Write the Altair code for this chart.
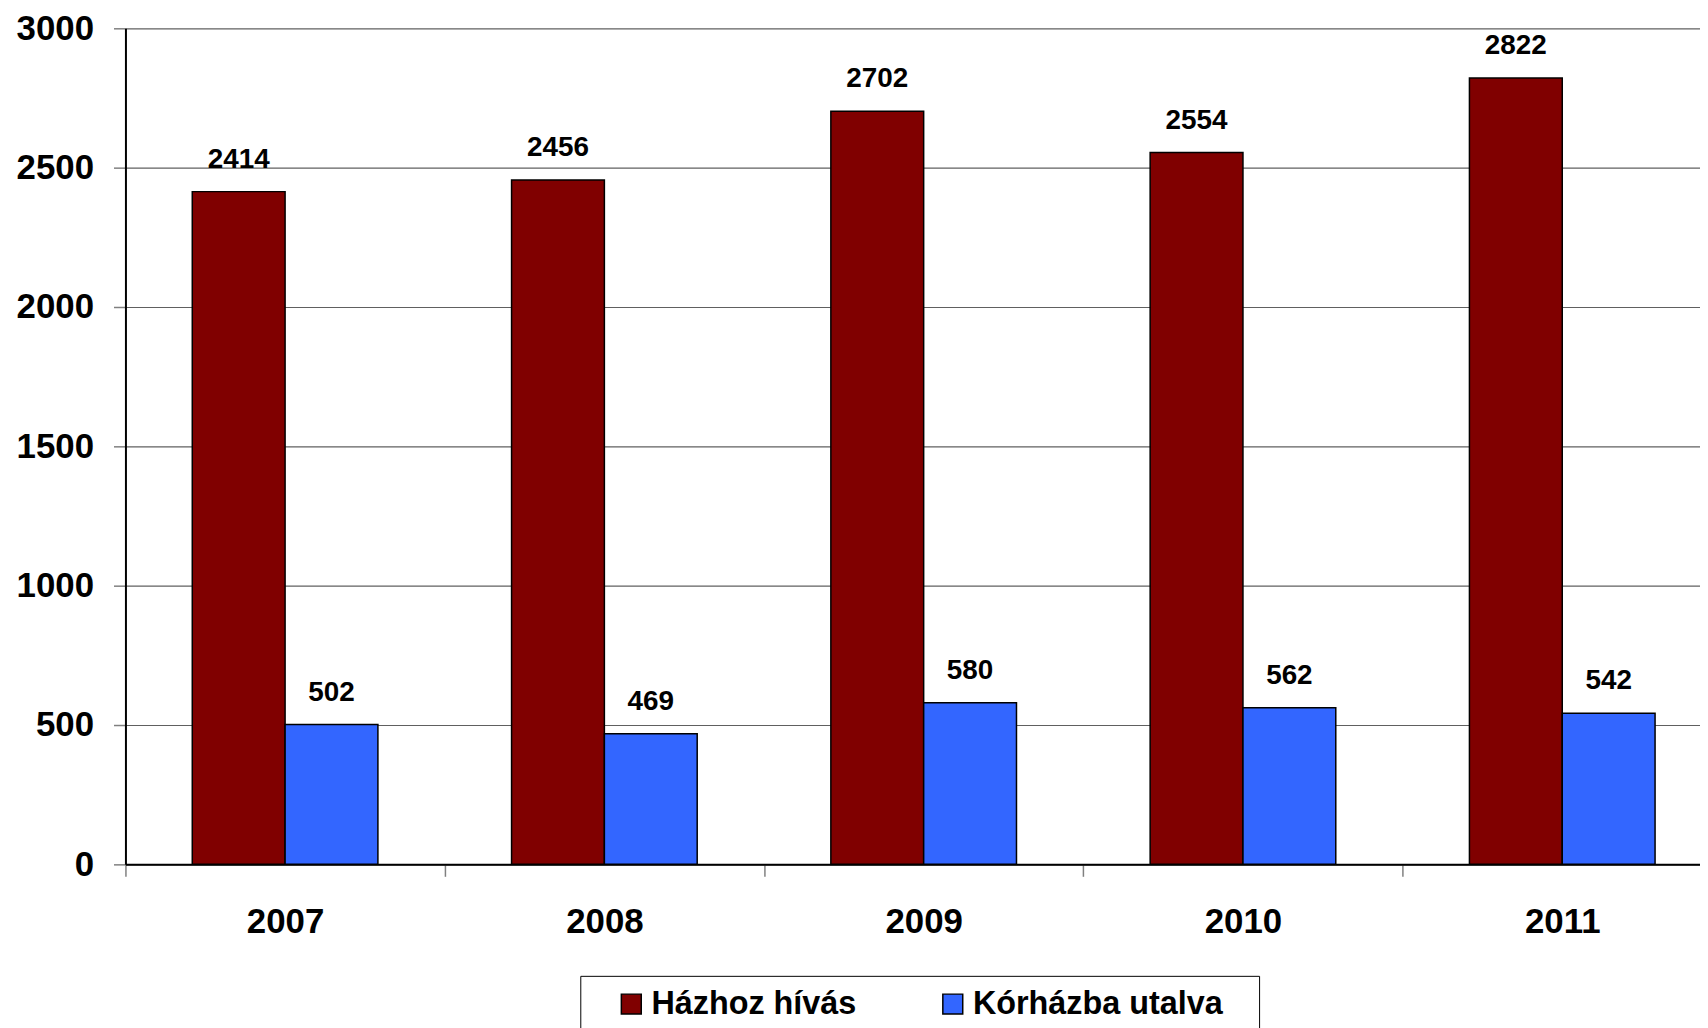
import altair as alt
import pandas as pd

years = ["2007", "2008", "2009", "2010", "2011"]
hazhoz_hivas = [2414, 2456, 2702, 2554, 2822]
korhazba_utalva = [502, 469, 580, 562, 542]
series = ["Házhoz hívás", "Kórházba utalva"]
colors = ["#800000", "#3366FF"]
y_ticks = [0, 500, 1000, 1500, 2000, 2500, 3000]

rows = []
for i, yr in enumerate(years):
    rows.append({"year": yr, "series": series[0], "value": hazhoz_hivas[i]})
    rows.append({"year": yr, "series": series[1], "value": korhazba_utalva[i]})
df = pd.DataFrame(rows)

FONT = "Liberation Sans"

x_enc = alt.X(
    "year:N",
    title=None,
    sort=years,
    scale=alt.Scale(range=[0, 1604], paddingInner=0, paddingOuter=0),
    axis=alt.Axis(
        labelAngle=0, labelFontSize=35, labelFont=FONT, labelFontWeight="bold",
        labelColor="black", tickBand="extent", tickSize=12, tickColor="#808080",
        tickWidth=1.5, domainColor="black", domainWidth=2, labelPadding=28,
    ),
)
xoff_enc = alt.XOffset("series:N", sort=series,
                       scale=alt.Scale(paddingInner=0, paddingOuter=0.72))
y_enc = alt.Y(
    "value:Q",
    title=None,
    scale=alt.Scale(domain=[0, 3000], nice=False),
    axis=alt.Axis(
        values=y_ticks, format="d", labelFontSize=35, labelFont=FONT,
        labelFontWeight="bold", labelColor="black", tickSize=12,
        tickColor="#808080", tickWidth=1.5, domainColor="black", domainWidth=2,
        labelPadding=20, grid=True, gridColor="#606060", gridWidth=1.2,
    ),
)

bars = alt.Chart(df).mark_bar(stroke="black", strokeWidth=1.5).encode(
    x=x_enc,
    xOffset=xoff_enc,
    y=y_enc,
    color=alt.Color(
        "series:N", sort=series,
        scale=alt.Scale(domain=series, range=colors),
        legend=alt.Legend(
            title=None, orient="none", legendX=457, legendY=952,
            direction="horizontal", strokeColor="black", fillColor="white",
            padding=12, symbolType="square", symbolSize=400,
            symbolStrokeColor="black", symbolStrokeWidth=1.5,
            symbolOffset=23, labelOffset=4,
            labelExpr="datum.label + '\u2800'",
            labelFontSize=32.5, labelFont=FONT, labelFontWeight="bold",
            labelColor="black", columnPadding=33, labelLimit=400,
        ),
    ),
)

labels = alt.Chart(df).mark_text(
    font=FONT, fontSize=28, fontWeight="bold", color="black",
    baseline="alphabetic", dy=-24,
).encode(
    x=alt.X("year:N", sort=years),
    xOffset=alt.XOffset("series:N", sort=series),
    y=alt.Y("value:Q"),
    text=alt.Text("value:Q"),
)

chart = (
    alt.layer(bars, labels)
    .properties(
        width=1582, height=840,
        autosize=alt.AutoSizeParams(type="none"),
        padding={"left": 118, "top": 18, "right": 0, "bottom": 162},
    )
    .configure_view(stroke=None)
)

chart.save("out.html", embed_options={"renderer": "svg", "actions": False})
